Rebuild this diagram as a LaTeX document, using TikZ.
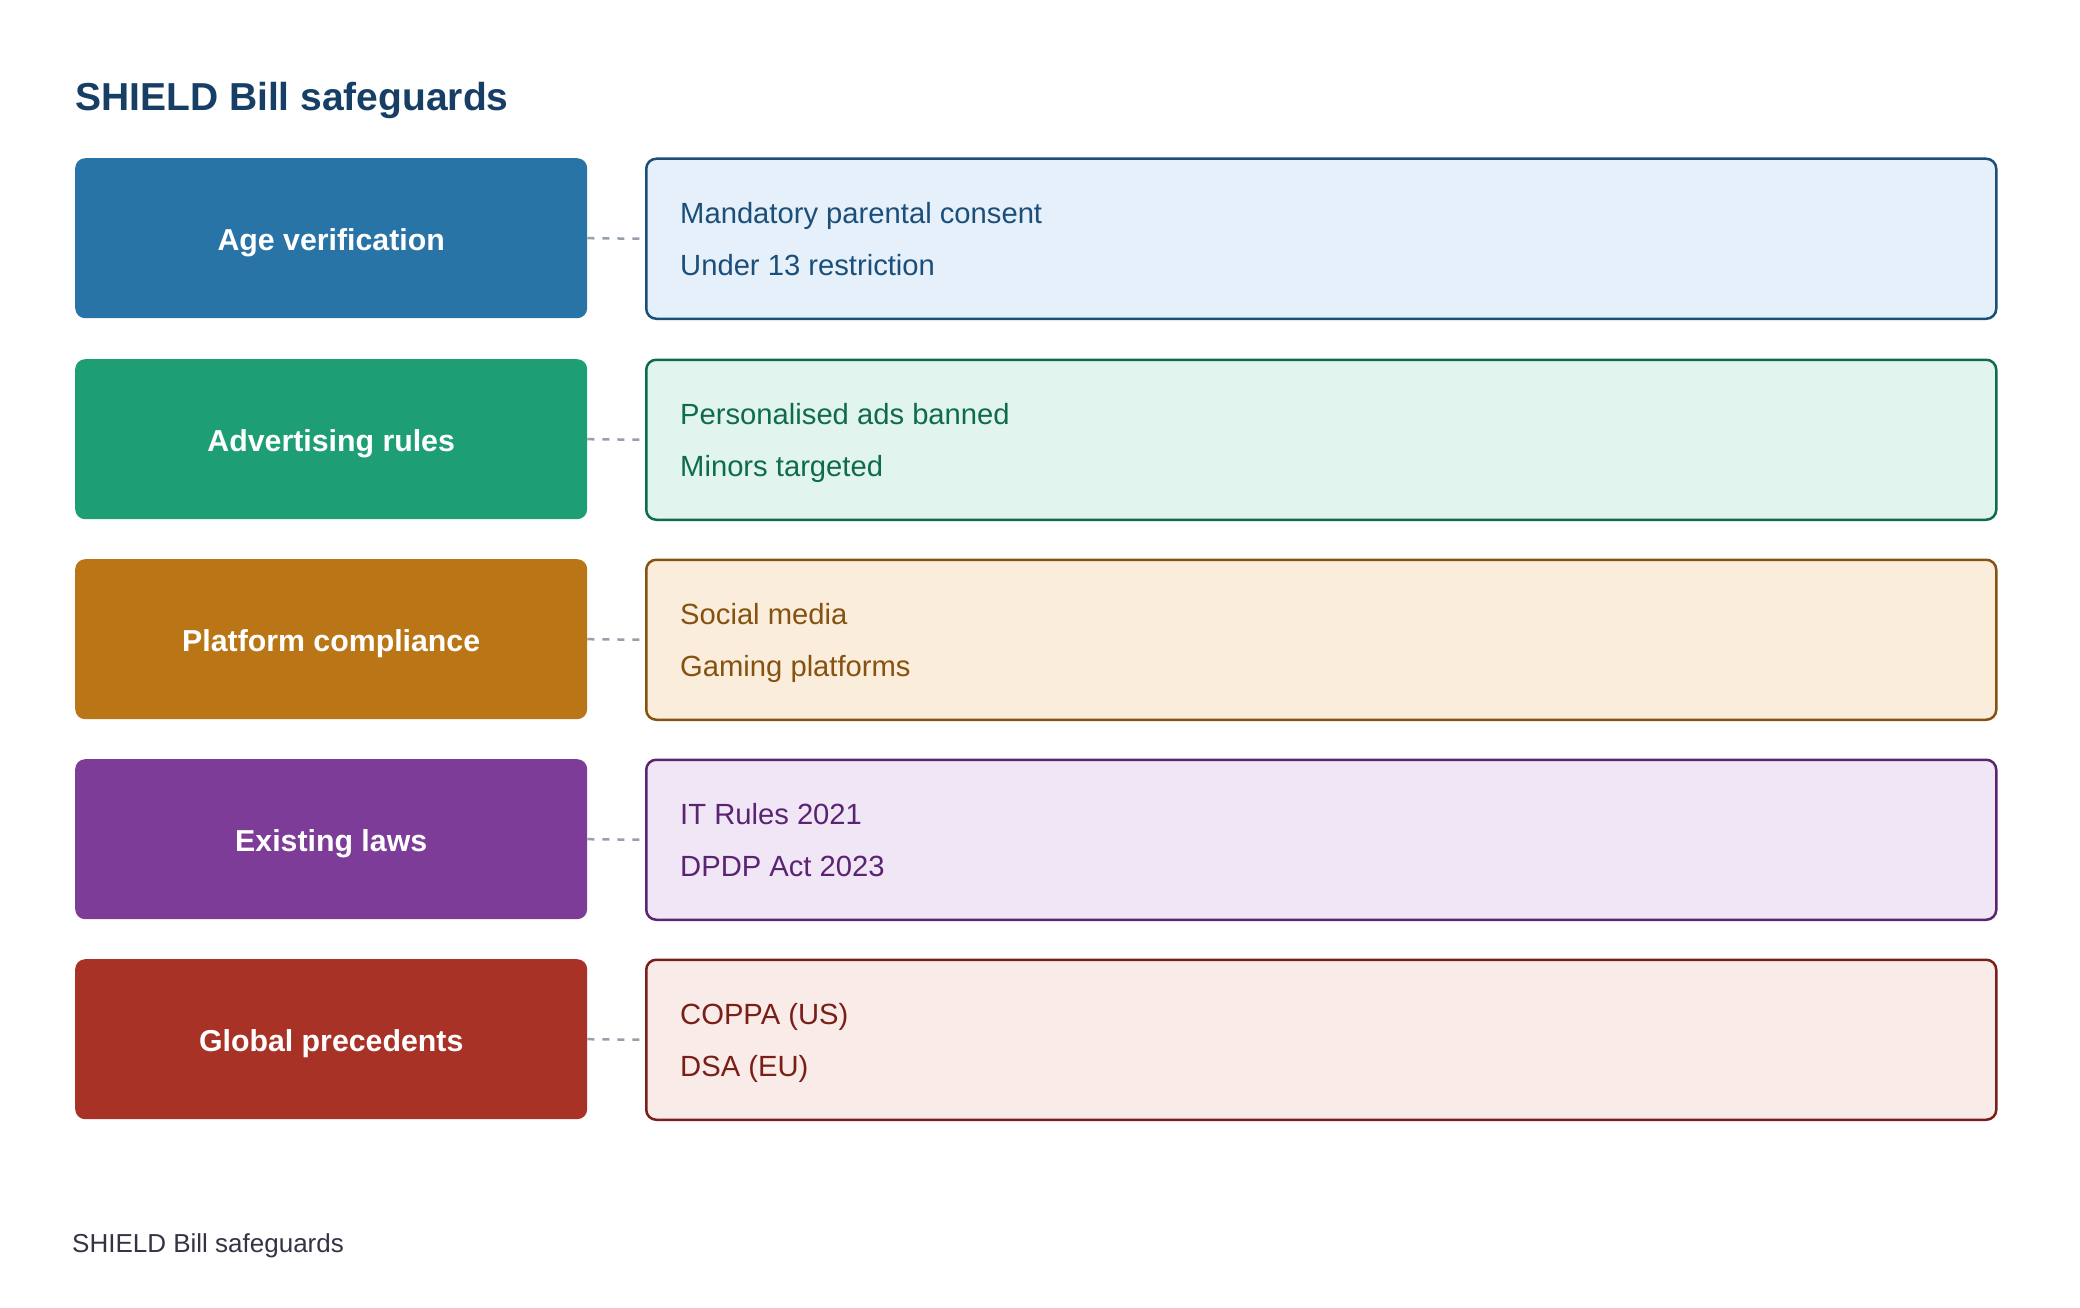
\documentclass[tikz,border=0pt]{standalone}
\usepackage{fontspec}
\setmainfont{Liberation Sans}
\definecolor{titlecol}{HTML}{173F66}
\definecolor{footcol}{HTML}{333344}
\definecolor{dashcol}{HTML}{969FAD}
\definecolor{lft1}{HTML}{2874A6}\definecolor{fil1}{HTML}{E6F0FA}\definecolor{drk1}{HTML}{1B4F7A}
\definecolor{lft2}{HTML}{1D9E75}\definecolor{fil2}{HTML}{E1F4EE}\definecolor{drk2}{HTML}{0F6B4E}
\definecolor{lft3}{HTML}{BA7517}\definecolor{fil3}{HTML}{FAEDDB}\definecolor{drk3}{HTML}{865210}
\definecolor{lft4}{HTML}{7D3C98}\definecolor{fil4}{HTML}{F0E6F5}\definecolor{drk4}{HTML}{5B2473}
\definecolor{lft5}{HTML}{A93226}\definecolor{fil5}{HTML}{F9EBE7}\definecolor{drk5}{HTML}{7A1F17}
\begin{document}
\begin{tikzpicture}[x=1pt,y=-1pt,
  leftbox/.style={fill=#1, rounded corners=10pt, minimum width=512pt, minimum height=160pt, inner sep=0pt, anchor=north west},
  rightbox/.style 2 args={fill=#1, draw=#2, line width=2.5pt, rounded corners=10pt, minimum width=1350pt, minimum height=160pt, inner sep=0pt, anchor=north west},
  leftlabel/.style={text=white, font=\fontsize{30.3}{36}\bfseries\selectfont, inner sep=0pt, anchor=base},
  itemtext/.style={text=#1, font=\fontsize{29.2}{35}\selectfont, inner sep=0pt, anchor=base west},
  connector/.style={draw=dashcol, line width=2.5pt, dash pattern=on 7pt off 8pt},
  titletext/.style={text=titlecol, font=\fontsize{39}{46}\bfseries\selectfont, inner sep=0pt, anchor=base west},
  foottext/.style={text=footcol, font=\fontsize{26}{32}\selectfont, inner sep=0pt, anchor=base west}
]
\useasboundingbox (0,0) rectangle (2080,1308);
\node[titletext] (title) at (75,110.5) {SHIELD Bill safeguards};
\foreach \i/\top/\lab/\ta/\tb in {
  1/158/Age verification/Mandatory parental consent/Under 13 restriction,
  2/359/Advertising rules/Personalised ads banned/Minors targeted,
  3/559/Platform compliance/Social media/Gaming platforms,
  4/759/Existing laws/IT Rules 2021/DPDP Act 2023,
  5/959/Global precedents/COPPA (US)/DSA (EU)}{
  \node[leftbox=lft\i] (L\i) at (75,\top) {};
  \node[rightbox={fil\i}{drk\i}] (R\i) at (645,\top-0.5) {};
  \node[leftlabel] (LL\i) at ([yshift=-12pt]L\i.center) {\lab};
  \node[itemtext=drk\i] (A\i) at ([xshift=35pt,yshift=15pt]R\i.west) {\ta};
  \node[itemtext=drk\i] (B\i) at ([xshift=35pt,yshift=-37pt]R\i.west) {\tb};
  \draw[connector] (L\i.east) -- (R\i.west);
}
\node[foottext] (foot) at (72,1252) {SHIELD Bill safeguards};
\end{tikzpicture}
\end{document}
